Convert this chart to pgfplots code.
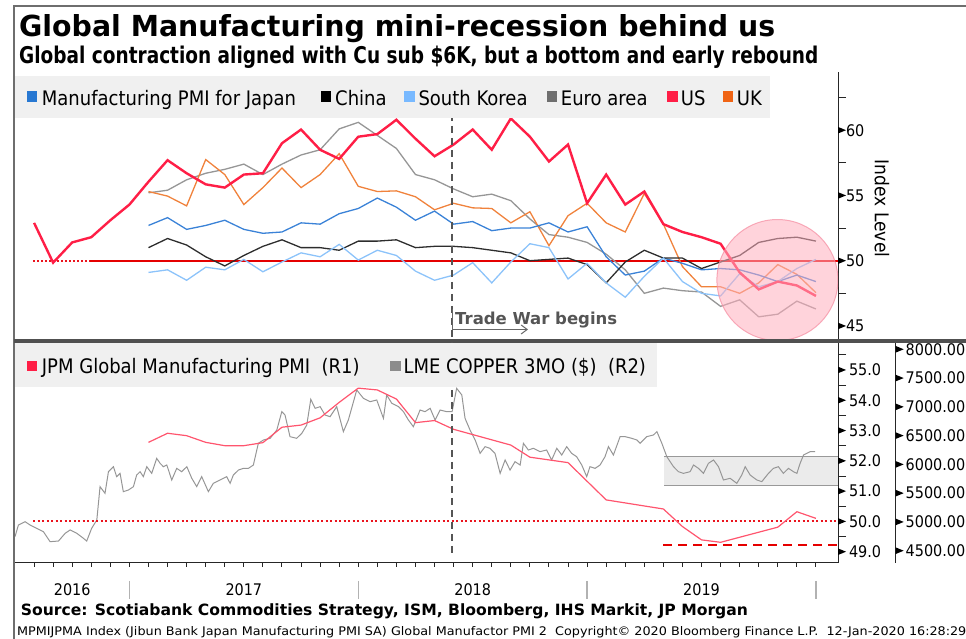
\documentclass[border=0pt]{standalone}
\usepackage{graphicx}
\usepackage{fontspec}
\setmainfont{DejaVu Sans}[FakeStretch=0.9]
\usepackage{pgfplots}
\pgfplotsset{compat=1.18}
\usetikzlibrary{arrows.meta}

\definecolor{cJP}{RGB}{58,130,215}
\definecolor{cCN}{RGB}{45,45,45}
\definecolor{cKR}{RGB}{140,195,250}
\definecolor{cEU}{RGB}{150,150,150}
\definecolor{cUS}{RGB}{255,30,70}
\definecolor{cUK}{RGB}{240,130,60}
\definecolor{cJPM}{RGB}{255,85,110}
\definecolor{cCu}{RGB}{150,150,150}
\definecolor{lJP}{RGB}{40,120,210}
\definecolor{lKR}{RGB}{120,185,255}
\definecolor{lEU}{RGB}{110,110,110}
\definecolor{lUK}{RGB}{240,100,20}
\definecolor{lCu}{RGB}{140,140,140}
\definecolor{legbg}{RGB}{240,240,240}
\definecolor{framec}{RGB}{110,110,110}
\definecolor{divc}{RGB}{80,80,80}
\definecolor{twc}{RGB}{85,85,85}
\definecolor{circf}{RGB}{255,175,190}
\definecolor{circd}{RGB}{245,140,160}
\definecolor{refred}{RGB}{235,20,30}

\newcommand{\fs}[1]{\fontsize{#1}{#1}\selectfont}

\pgfplotsset{
  panel/.style={scale only axis, anchor=south west, xmin=6,
    tick align=outside, major tick length=3.5pt, minor tick length=8pt,
    every major y tick/.append style={draw=none},
    every tick/.append style={line width=0.9pt, black!85},
    axis line style={line width=1pt, black!85},
    clip mode=individual,
    /pgf/number format/assume math mode=true,
    yticklabel style={font=\fs{16}}},
}

\begin{document}
\begin{tikzpicture}[x=1pt,y=1pt]
\useasboundingbox (0,0) rectangle (966,639);

% ---------------- top panel: PMIs
\begin{axis}[panel, at={(15pt,300pt)}, width=823pt, height=261pt,
  xmax=49.157, ymin=44, ymax=64,
  axis x line=none, axis y line*=right,
  ytick={45,50,55,60}, minor ytick={47.5,52.5,57.5,62.5},
  yticklabel style={xshift=1pt}]
\addplot[refred, line width=2pt, dash pattern=on 2pt off 2pt] coordinates {(6.95,50) (49.157,50)};
\addplot[red!90!black, line width=2.2pt] coordinates {(9.94,50) (49.157,50)};
% Euro area
\addplot[cEU, line width=1.3pt] coordinates {(13,55.2)(14,55.4)(15,56.2)(16,56.7)(17,57.0)(18,57.4)(19,56.6)(20,57.4)(21,58.1)(22,58.5)(23,60.1)(24,60.6)(25,59.6)(26,58.6)(27,56.6)(28,56.2)(29,55.5)(30,54.9)(31,55.1)(32,54.6)(33,53.2)(34,52.0)(35,51.8)(36,51.4)(37,50.5)(38,49.3)(39,47.5)(40,47.9)(41,47.7)(42,47.6)(43,46.5)(44,47.0)(45,45.7)(46,45.9)(47,46.9)(48,46.3)};
% UK
\addplot[cUK, line width=1.3pt] coordinates {(13,55.3)(14,54.95)(15,54.2)(16,57.75)(17,56.6)(18,54.3)(19,55.6)(20,57.1)(21,55.6)(22,56.6)(23,58.2)(24,55.7)(25,55.3)(26,55.35)(27,54.9)(28,53.9)(29,54.4)(30,54.05)(31,54.0)(32,52.9)(33,53.75)(34,51.15)(35,53.45)(36,54.4)(37,52.9)(38,52.2)(39,55.15)(40,52.8)(41,49.55)(42,48.0)(43,48.0)(44,47.5)(45,48.3)(46,49.7)(47,48.95)(48,47.55)};
% Japan
\addplot[cJP, line width=1.3pt] coordinates {(13,52.7)(14,53.3)(15,52.4)(16,52.7)(17,53.1)(18,52.4)(19,52.1)(20,52.2)(21,52.9)(22,52.8)(23,53.6)(24,54.0)(25,54.8)(26,54.1)(27,53.1)(28,53.8)(29,52.8)(30,53.0)(31,52.3)(32,52.5)(33,52.5)(34,52.9)(35,52.2)(36,52.6)(37,50.3)(38,48.9)(39,49.2)(40,50.2)(41,49.8)(42,49.3)(43,49.4)(44,49.3)(45,48.9)(46,48.4)(47,48.9)(48,48.4)};
% China
\addplot[cCN, line width=1.3pt] coordinates {(13,51.0)(14,51.7)(15,51.2)(16,50.3)(17,49.6)(18,50.4)(19,51.1)(20,51.6)(21,51.0)(22,51.0)(23,50.8)(24,51.5)(25,51.5)(26,51.6)(27,51.0)(28,51.1)(29,51.1)(30,51.0)(31,50.8)(32,50.6)(33,50.0)(34,50.1)(35,50.2)(36,49.7)(37,48.3)(38,49.9)(39,50.8)(40,50.2)(41,50.2)(42,49.4)(43,49.9)(44,50.4)(45,51.4)(46,51.7)(47,51.8)(48,51.5)};
% South Korea
\addplot[cKR, line width=1.3pt] coordinates {(13,49.1)(14,49.3)(15,48.5)(16,49.5)(17,49.3)(18,50.1)(19,49.15)(20,49.9)(21,50.6)(22,50.3)(23,51.25)(24,50.05)(25,50.8)(26,50.4)(27,49.2)(28,48.5)(29,48.9)(30,49.85)(31,48.3)(32,49.9)(33,51.3)(34,51.0)(35,48.6)(36,49.8)(37,48.3)(38,47.2)(39,48.8)(40,50.2)(41,48.4)(42,47.5)(43,47.3)(44,49.0)(45,48.0)(46,48.4)(47,49.4)(48,50.1)};
% US
\addplot[cUS, line width=2.4pt] coordinates {(7,52.9)(8,49.85)(9,51.4)(10,51.8)(11,53.1)(12,54.3)(13,56.05)(14,57.7)(15,56.7)(16,55.85)(17,55.6)(18,56.6)(19,56.7)(20,59.0)(21,60.05)(22,58.5)(23,57.8)(24,59.5)(25,59.7)(26,60.8)(27,59.35)(28,58.0)(29,58.9)(30,60.05)(31,58.5)(32,60.9)(33,59.5)(34,57.6)(35,58.9)(36,54.4)(37,56.6)(38,54.3)(39,55.3)(40,52.8)(41,52.2)(42,51.8)(43,51.3)(44,49.1)(45,47.8)(46,48.4)(47,48.1)(48,47.3)};
\begin{scope}
  \clip (rel axis cs:0,0) rectangle (rel axis cs:1,1);
  \filldraw[fill=circf, fill opacity=0.55, draw=circd, draw opacity=0.7, line width=1pt]
    (axis cs:45.98,48.52) circle[radius=60.5pt];
\end{scope}
\pgfplotsinvokeforeach{45,50,55,60}{
  \fill[black] (axis cs:49.157,#1) ++(0pt,3.3pt) -- ++(8pt,-3.3pt) -- ++(-8pt,-3.3pt) -- cycle;}
\coordinate (twtop) at (axis cs:28.92,64);
\end{axis}

% ---------------- bottom panel, copper (R2)
\begin{axis}[panel, at={(15pt,76pt)}, width=880.7pt, height=220pt,
  xmax=52.183, ymin=4286.3, ymax=8109.5,
  axis x line=none, axis y line*=right,
  ytick={4500,5000,5500,6000,6500,7000,7500,8000},
  yticklabel style={xshift=3pt, /pgf/number format/.cd, fixed, fixed zerofill, precision=2, 1000 sep={}}]
\fill[black!8] (axis cs:40.04,5629) rectangle (axis cs:49.157,6133);
\draw[black!40, line width=1pt] (axis cs:40.04,5629) -- (axis cs:49.157,5629);
\draw[black!40, line width=1pt] (axis cs:40.04,6133) -- (axis cs:49.157,6133);
\addplot[cCu, line width=1pt] coordinates {
(6.00,4744)(6.18,4947)(6.53,5004)(6.79,4947)(7.14,4889)(7.49,4831)(7.84,4657)(8.28,4668)(8.63,4802)(8.89,4860)
(9.24,4802)(9.59,4715)(9.76,4668)(10.02,4889)(10.29,5033)(10.46,5613)(10.72,5497)(10.90,5873)(11.16,5960)(11.33,5787)
(11.51,5844)(11.68,5526)(11.95,5555)(12.21,5613)(12.38,5815)(12.56,5873)(12.73,5787)(12.91,5960)(13.17,5844)(13.43,6105)
(13.61,6018)(13.78,5960)(13.96,5989)(14.22,5729)(14.48,5931)(14.74,5873)(15.01,5960)(15.27,5758)(15.53,5613)(15.79,5787)
(16.14,5526)(16.40,5671)(16.75,5729)(17.10,5787)(17.28,5671)(17.45,5815)(17.72,5902)(17.98,5931)(18.24,5931)(18.50,5989)
(18.76,6366)(19.03,6424)(19.38,6453)(19.73,6598)(19.99,6916)(20.16,6858)(20.42,6482)(20.77,6453)(21.04,6540)(21.30,6684)
(21.51,7130)(21.74,6974)(22.00,7003)(22.26,6858)(22.52,6829)(22.87,7003)(23.22,6569)(23.48,6771)(23.75,7090)(23.92,7293)
(24.27,7148)(24.62,7090)(24.97,7119)(25.32,6800)(25.49,7206)(25.76,7061)(26.11,7003)(26.37,6916)(26.63,6771)(26.89,6655)
(27.24,6945)(27.50,6916)(27.77,6974)(28.03,6771)(28.29,6945)(28.64,6916)(28.92,6916)(29.16,7322)(29.43,7206)(29.60,6800)
(29.86,6598)(30.13,6424)(30.39,6192)(30.65,6308)(30.91,6279)(31.17,6192)(31.44,5844)(31.70,6076)(31.96,5902)(32.22,6047)
(32.49,5989)(32.66,6366)(32.92,6250)(33.18,6279)(33.53,6221)(33.88,6250)(34.14,6076)(34.41,6279)(34.67,6163)(34.93,6308)
(35.19,6192)(35.45,6134)(35.72,5989)(35.98,5787)(36.15,5960)(36.42,5931)(36.68,5989)(36.94,6134)(37.12,6308)(37.38,6163)
(37.73,6482)(37.99,6482)(38.34,6453)(38.61,6424)(38.78,6366)(39.13,6482)(39.48,6511)(39.66,6569)(39.92,6366)(40.18,6134)
(40.53,5960)(40.79,5873)(41.05,5844)(41.40,5873)(41.58,5989)(41.84,5931)(42.10,5844)(42.36,6018)(42.63,6076)(42.89,5960)
(43.15,5729)(43.50,5758)(43.85,5671)(44.11,5815)(44.29,5960)(44.55,5815)(44.90,5729)(45.16,5700)(45.51,5844)(45.77,5931)
(46.03,5960)(46.29,5844)(46.56,5931)(46.82,5873)(47.00,5844)(47.17,6018)(47.35,6163)(47.70,6221)(47.96,6221)};
\pgfplotsinvokeforeach{4500,5000,5500,6000,6500,7000,7500,8000}{
  \fill[black] (axis cs:52.183,#1) ++(0pt,3.3pt) -- ++(8pt,-3.3pt) -- ++(-8pt,-3.3pt) -- cycle;}
\end{axis}

% ---------------- bottom panel, JPM global PMI (R1)
\begin{axis}[panel, at={(15pt,76pt)}, width=823pt, height=220pt,
  xmax=49.157, ymin=48.627, ymax=55.89,
  axis x line*=bottom, axis y line*=right,
  xtick=\empty,
  ytick={49,50,51,52,53,54,55}, minor ytick={49.5,50.5,51.5,52.5,53.5,54.5,55.5},
  yticklabel style={xshift=4pt, /pgf/number format/.cd, fixed, fixed zerofill, precision=1}]
\addplot[refred, line width=2pt, dash pattern=on 2pt off 2.5pt] coordinates {(6.95,50) (49.157,50)};
\addplot[red!90!black, line width=2pt, dash pattern=on 9pt off 6pt] coordinates {(39.98,49.22) (49.157,49.22)};
\addplot[cJPM, line width=1.2pt] coordinates {(13,52.61)(14,52.91)(15,52.83)(16,52.61)(17,52.50)(18,52.50)(19,52.60)(20,53.11)(21,53.18)(22,53.42)(23,53.93)(24,54.40)(25,54.34)(26,54.04)(27,53.26)(28,53.33)(29,53.04)(32,52.52)(33,52.12)(35,51.94)(37,50.71)(40,50.41)(41,49.83)(42,49.39)(43,49.31)(46,49.81)(47,50.32)(48,50.10)};
\pgfplotsinvokeforeach{49,50,51,52,53,54,55}{
  \fill[black] (axis cs:49.157,#1) ++(0pt,3.3pt) -- ++(8pt,-3.3pt) -- ++(-8pt,-3.3pt) -- cycle;}
\pgfplotsinvokeforeach{12,24,36,48}{
  \draw[black!30, line width=1.3pt] (axis cs:#1,48.627) ++(0pt,-18pt) -- ++(0pt,-18pt);}
\node[anchor=base, font=\fs{16}, yshift=-33pt] at (axis cs:9,48.627) {2016};
\node[anchor=base, font=\fs{16}, yshift=-33pt] at (axis cs:18,48.627) {2017};
\node[anchor=base, font=\fs{16}, yshift=-33pt] at (axis cs:30,48.627) {2018};
\node[anchor=base, font=\fs{16}, yshift=-33pt] at (axis cs:42,48.627) {2019};
\end{axis}

% monthly ticks under the lower panel (19.07pt per month, t=6 at x=15)
\foreach \t in {7,...,48} {\draw[black!85, line width=1pt] ({15+(\t-6)*19.07},76) -- ++(0,-4);}

% frame and divider
\draw[framec, line width=2pt] (14,0) -- (14,633.3) -- (966,633.3);
\draw[divc, line width=3.4pt] (14,298) -- (966,298);
\draw[black!85, line width=1pt] (838,561) -- (838,567);

% trade war marker
\draw[twc, line width=1.6pt, dash pattern=on 7pt off 5pt] (twtop) -- ++(0,-478pt);
\draw[twc!90, line width=1pt] (452,330) -- (452,309);
\draw[twc!90, line width=1pt, -{Straight Barb[length=6pt,width=9pt]}] (452,309.5) -- (528,309.5);
\node[anchor=base west, inner sep=0, text=twc] at (455,314) {\resizebox{162pt}{12.5pt}{\bfseries Trade War begins}};

% top legend
\fill[legbg] (15,521) rectangle (770,563);
\fill[lJP] (26.7,537.3) rectangle (37.3,548);
\node[anchor=base west, inner sep=0, font=\fs{20}] at (41.7,533.5) {Manufacturing PMI for Japan};
\fill[black] (320.7,537.3) rectangle (331.3,548);
\node[anchor=base west, inner sep=0, font=\fs{20}] at (335,533.5) {China};
\fill[lKR] (404,537.3) rectangle (414.6,548);
\node[anchor=base west, inner sep=0, font=\fs{20}] at (418.3,533.5) {South Korea};
\fill[lEU] (546.7,537.3) rectangle (557.3,548);
\node[anchor=base west, inner sep=0, font=\fs{20}] at (560.7,533.5) {Euro area};
\fill[cUS] (667,537.3) rectangle (677.6,548);
\node[anchor=base west, inner sep=0, font=\fs{20}] at (680.7,533.5) {US};
\fill[lUK] (722.7,537.3) rectangle (733.3,548);
\node[anchor=base west, inner sep=0, font=\fs{20}] at (736.7,533.5) {UK};

% bottom legend
\fill[legbg] (15,252) rectangle (657,296.3);
\fill[cUS] (26.7,268.3) rectangle (37.3,278.3);
\node[anchor=base west, inner sep=0, font=\fs{20}] at (41.7,265.7) {JPM Global Manufacturing PMI\ \ (R1)};
\fill[lCu] (390,268.3) rectangle (400.6,278.3);
\node[anchor=base west, inner sep=0, font=\fs{20}] at (403.3,265.7) {LME COPPER 3MO (\$)\ \ (R2)};

% axis title
\node[rotate=-90, font=\fs{19}] at (882,430.5) {Index Level};

% titles and source lines
\node[anchor=base west, inner sep=0] at (19,602) {\resizebox{756pt}{22pt}{\bfseries Global Manufacturing mini-recession behind us}};
\node[anchor=base west, inner sep=0] at (19,575.7) {\resizebox{799pt}{17.5pt}{\bfseries Global contraction aligned with Cu sub \$6K, but a bottom and early rebound}};
\node[anchor=base west, inner sep=0] at (20.7,23) {\resizebox{727pt}{11.8pt}{\bfseries Source: Scotiabank Commodities Strategy, ISM, Bloomberg, IHS Markit, JP Morgan}};
\node[anchor=base west, inner sep=0] at (17,3.3) {\resizebox{949pt}{9pt}{MPMIJPMA Index (Jibun Bank Japan Manufacturing PMI SA) Global Manufactor PMI 2\ \ Copyright© 2020 Bloomberg Finance L.P.\ \ 12-Jan-2020 16:28:29}};
\end{tikzpicture}
\end{document}
